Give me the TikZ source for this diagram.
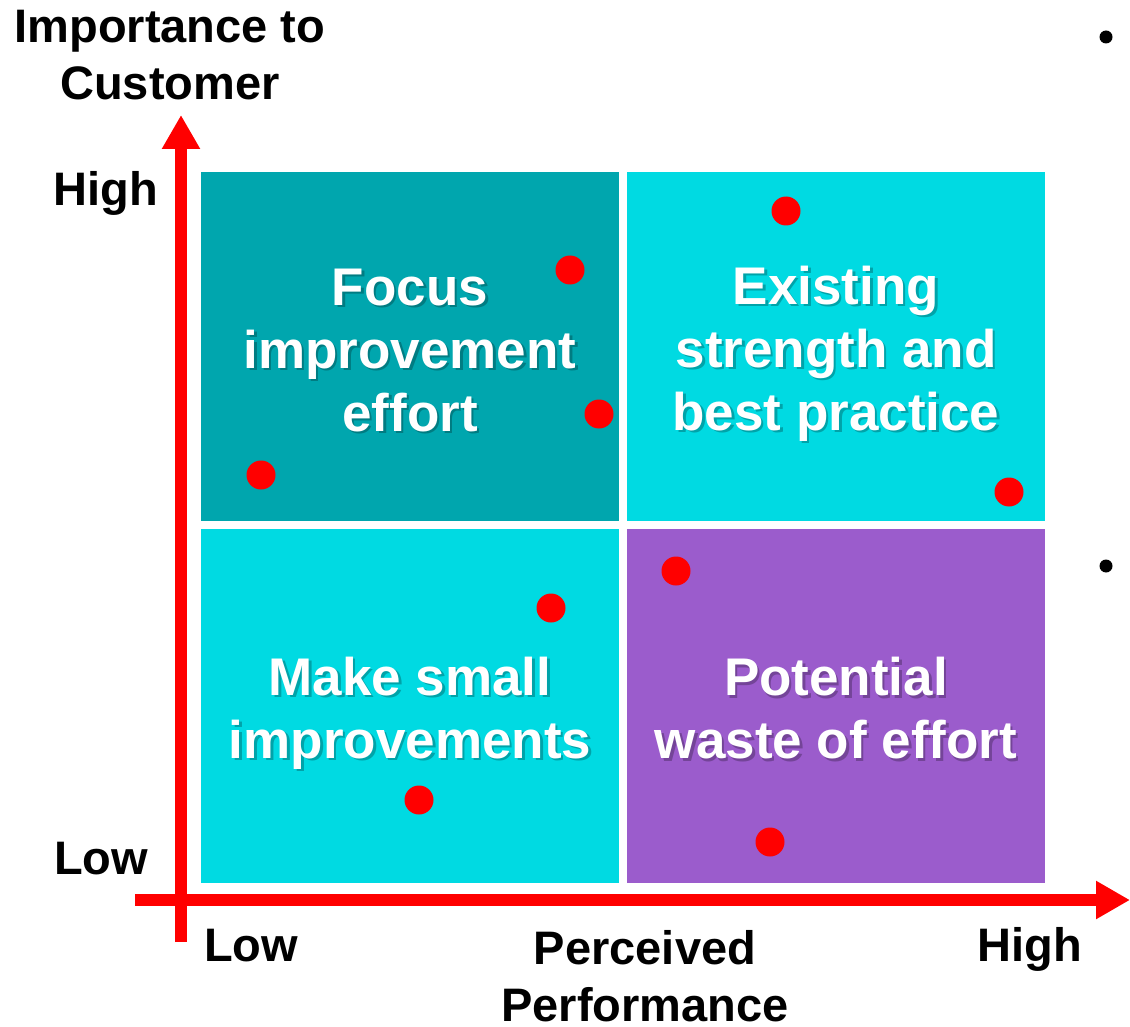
\documentclass[tikz,border=0pt]{standalone}
\usepackage{fontspec}
\setmainfont{Liberation Sans}
\usepackage{xcolor}
\usetikzlibrary{arrows.meta}
\definecolor{QuadDark}{RGB}{0,166,174}
\definecolor{QuadCyan}{RGB}{0,218,226}
\definecolor{QuadPurple}{RGB}{155,92,204}
\definecolor{AxisRed}{RGB}{255,0,0}
\definecolor{DotRed}{RGB}{255,0,0}

% quadrant caption with a soft drop shadow
\newcommand{\quadlabel}[3]{%
  \node[qtext, text=black, opacity=0.25] at ([shift={(2.5,#3+2.5)}]#1.center) {#2};
  \node[qtext, text=white] (#1-t) at ([yshift=-#3]#1.center) {#2};}

\begin{document}
\begin{tikzpicture}[x=1pt,y=-1pt,
    every node/.style={font=\bfseries, inner sep=0pt},
    quad/.style={minimum width=418pt, inner sep=0pt},
    qtext/.style={align=center, font=\bfseries\fontsize{53}{63}\selectfont},
    axlabel/.style={align=center, font=\bfseries\fontsize{47}{57}\selectfont},
    axis/.style={line width=12pt, AxisRed, -{Triangle[width=36pt,length=34pt]}},
    dot/.style={fill=DotRed}]
  \useasboundingbox (0,0) rectangle (1130,1027);

  % quadrants
  \node[quad, fill=QuadDark,   minimum height=349pt] (q1) at (410,346.5) {};
  \node[quad, fill=QuadCyan,   minimum height=349pt] (q2) at (836,346.5) {};
  \node[quad, fill=QuadCyan,   minimum height=354pt] (q3) at (410,706) {};
  \node[quad, fill=QuadPurple, minimum height=354pt] (q4) at (836,706) {};

  \quadlabel{q1}{Focus\\improvement\\effort}{4}
  \quadlabel{q2}{Existing\\strength and\\best practice}{7}
  \quadlabel{q3}{Make small\\improvements}{7}
  \quadlabel{q4}{Potential\\waste of effort}{2.5}

  % axes
  \coordinate (ybot) at (181,942);
  \coordinate (ytop) at (181,115);
  \coordinate (xleft) at (135,900);
  \coordinate (xright) at (1130,900);
  \draw[axis] (ybot) -- (ytop);
  \draw[axis] (xleft) -- (xright);

  \node[axlabel] (ytitle) at (170,55) {Importance to\\Customer};
  \node[axlabel] (yhigh) at (106,193) {High};
  \node[axlabel] (ylow) at (101,859) {Low};
  \node[axlabel] (xlow) at (251,946) {Low};
  \node[axlabel] (xtitle) at (645,976) {Perceived\\Performance};
  \node[axlabel] (xhigh) at (1030,949) {High};

  % data points
  \foreach \px/\py in {570/270, 786/211, 599/414, 261/475, 1009/492,
                       676/571, 551/608, 419/800, 770/842}
    \fill[dot] (\px,\py) circle (14.5);

  % bullets
  \fill (1106,37) circle (6.5);
  \fill (1106,566) circle (6.5);
\end{tikzpicture}
\end{document}
